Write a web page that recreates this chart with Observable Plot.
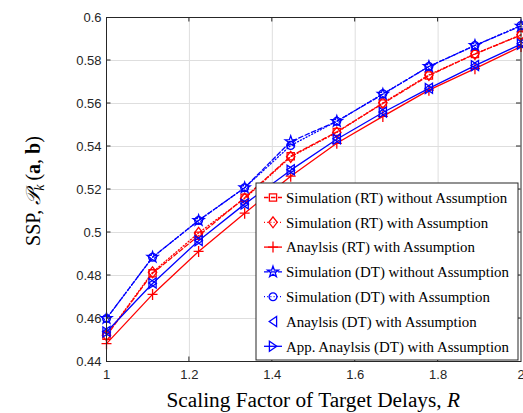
<!DOCTYPE html>
<html><head><meta charset="utf-8">
<script src="https://cdn.jsdelivr.net/npm/d3@7"></script>
<script src="https://cdn.jsdelivr.net/npm/@observablehq/plot@0.6"></script>
<style>body{margin:0;background:#fff} svg{display:block}</style>
</head><body><div id="chart"></div>
<script>
// ---- data ----
const xValues = [1, 1.1111, 1.2222, 1.3333, 1.4444, 1.5556, 1.6667, 1.7778, 1.8889, 2];
const simRTwithout = [0.4520, 0.4810, 0.4985, 0.5162, 0.5355, 0.5468, 0.5600, 0.5730, 0.5830, 0.5918];
const simRTwith    = [0.4522, 0.4815, 0.4998, 0.5158, 0.5352, 0.5465, 0.5603, 0.5733, 0.5831, 0.5920];
const anaRTwith    = [0.4483, 0.4712, 0.4912, 0.5090, 0.5262, 0.5415, 0.5540, 0.5662, 0.5762, 0.5865];
const simDTwithout = [0.4600, 0.4885, 0.5056, 0.5208, 0.5423, 0.5517, 0.5643, 0.5772, 0.5870, 0.5960];
const simDTwith    = [0.4600, 0.4885, 0.5056, 0.5208, 0.5405, 0.5517, 0.5645, 0.5772, 0.5870, 0.5963];
const anaDTwith    = [0.4540, 0.4765, 0.4963, 0.5134, 0.5292, 0.5436, 0.5560, 0.5671, 0.5777, 0.5878];
const appDTwith    = [0.4537, 0.4763, 0.4962, 0.5132, 0.5290, 0.5434, 0.5558, 0.5670, 0.5776, 0.5876];
const seriesNames = [
  "Simulation (RT) without Assumption",
  "Simulation (RT) with Assumption",
  "Anaylsis (RT) with Assumption",
  "Simulation (DT) without Assumption",
  "Simulation (DT) with Assumption",
  "Anaylsis (DT) with Assumption",
  "App. Anaylsis (DT) with Assumption"
];
const xTicks = [1, 1.2, 1.4, 1.6, 1.8, 2];
const yTicks = [0.44, 0.46, 0.48, 0.5, 0.52, 0.54, 0.56, 0.58, 0.6];

// ---- marker shapes (MATLAB-like, hollow) ----
const R0 = 4.5;
const mk = (fn) => ({draw(c, size){ const s = Math.sqrt(size/Math.PI)/R0; fn(c, s); }});
const poly = (c, pts, s) => { pts.forEach(([x,y],i)=> i? c.lineTo(x*s,y*s) : c.moveTo(x*s,y*s)); c.closePath(); };
const symSquare = mk((c,s)=>poly(c,[[-3.6,-3.6],[3.6,-3.6],[3.6,3.6],[-3.6,3.6]],s));
const symDiamond = mk((c,s)=>poly(c,[[0,-5.5],[4.2,0],[0,5.5],[-4.2,0]],s));
const symPlus = mk((c,s)=>{c.moveTo(-5*s,0);c.lineTo(5*s,0);c.moveTo(0,-5.5*s);c.lineTo(0,5.5*s);});
const symStar = mk((c,s)=>{const pts=[];for(let i=0;i<10;i++){const a=-Math.PI/2+i*Math.PI/5;const rr=i%2?2.3:5.8;pts.push([rr*Math.cos(a),rr*Math.sin(a)]);}poly(c,pts,s);});
const symCircle = mk((c,s)=>{c.moveTo(3.9*s,0);c.arc(0,0,3.9*s,0,2*Math.PI);});
const symTriLeft = mk((c,s)=>poly(c,[[-3.8,0],[3.6,-5],[3.6,5]],s));
const symTriRight = mk((c,s)=>poly(c,[[3.8,0],[-3.6,-5],[-3.6,5]],s));

const RED = "#ff0000", BLUE = "#0000ff";
const DASH = "4.5,2.5", DOT = "1,2.2";
const series = [
  {name: seriesNames[0], ys: simRTwithout, color: RED, dash: DASH, line: true, symbol: symSquare},
  {name: seriesNames[1], ys: simRTwith, color: RED, dash: DOT, line: true, symbol: symDiamond},
  {name: seriesNames[2], ys: anaRTwith, color: RED, dash: null, line: true, symbol: symPlus},
  {name: seriesNames[3], ys: simDTwithout, color: BLUE, dash: DASH, line: true, symbol: symStar},
  {name: seriesNames[4], ys: simDTwith, color: BLUE, dash: DOT, line: true, symbol: symCircle},
  {name: seriesNames[5], ys: anaDTwith, color: BLUE, dash: null, line: false, symbol: symTriLeft},
  {name: seriesNames[6], ys: appDTwith, color: BLUE, dash: null, line: true, symbol: symTriRight}
];
const rows = (ys) => xValues.map((x, i) => ({x, y: ys[i]}));

const marks = [
  Plot.gridX(xTicks.slice(1, -1), {stroke: "#dedede", strokeOpacity: 1}),
  Plot.gridY(yTicks.slice(1, -1), {stroke: "#dedede", strokeOpacity: 1}),
  Plot.axisX(xTicks, {tickSize: 0, tickPadding: 8, label: null, tickFormat: d => String(+d.toFixed(2)), fill: "#262626"}),
  Plot.axisY(yTicks, {tickSize: 0, tickPadding: 5, label: null, tickFormat: d => String(+d.toFixed(2)), fill: "#262626"})
];
for (const s of series) {
  const data = rows(s.ys);
  if (s.line) marks.push(Plot.line(data, {x: "x", y: "y", stroke: s.color, strokeWidth: 1.3, strokeDasharray: s.dash ?? undefined}));
  marks.push(Plot.dot(data, {x: "x", y: "y", symbol: s.symbol, r: R0, stroke: s.color, fill: "none", strokeWidth: 1.3}));
}
marks.push(Plot.frame({stroke: "#262626", strokeWidth: 1}));

const chart = Plot.plot({
  width: 523, height: 413,
  marginLeft: 106, marginRight: 2.5, marginTop: 17, marginBottom: 52,
  x: {domain: [1, 2]},
  y: {domain: [0.44, 0.6]},
  style: {fontFamily: "'Liberation Sans', Arial, sans-serif", fontSize: "13px", background: "#fff", overflow: "visible"},
  marks
});
document.getElementById("chart").appendChild(chart);

// ---- inward ticks, labels, legend ----
const svg = d3.select(chart);
const sx = chart.scale("x"), sy = chart.scale("y");
const [x0, x1] = sx.range, [y0, y1] = sy.range; // y0 bottom, y1 top
const tg = svg.append("g").attr("stroke", "#262626").attr("stroke-width", 1);
for (const t of xTicks.slice(1, -1)) {
  const px = sx.apply(t);
  tg.append("line").attr("x1", px).attr("x2", px).attr("y1", y0).attr("y2", y0 - 4.5);
  tg.append("line").attr("x1", px).attr("x2", px).attr("y1", y1).attr("y2", y1 + 4.5);
}
for (const t of yTicks.slice(1, -1)) {
  const py = sy.apply(t);
  tg.append("line").attr("x1", x0).attr("x2", x0 + 4.5).attr("y1", py).attr("y2", py);
  tg.append("line").attr("x1", x1).attr("x2", x1 - 4.5).attr("y1", py).attr("y2", py);
}

const serif = "'Liberation Serif', 'Times New Roman', serif";
// x label
const xl = svg.append("text").attr("x", (x0 + x1) / 2).attr("y", 407).attr("text-anchor", "middle")
  .style("font-family", serif).style("font-size", "21.3px").attr("fill", "#000");
xl.append("tspan").text("Scaling Factor of Target Delays, ");
xl.append("tspan").attr("font-style", "italic").text("R");
// y label
const yl = svg.append("text").attr("transform", `translate(40,${(y0 + y1) / 2 + 2}) rotate(-90)`).attr("text-anchor", "middle")
  .style("font-family", serif).style("font-size", "20px").attr("fill", "#000");
yl.append("tspan").text("SSP, ");
yl.append("tspan").attr("font-style", "italic").text("𝒫");
yl.append("tspan").attr("font-style", "italic").attr("font-size", "14px").attr("dy", 4).text("k");
yl.append("tspan").attr("dy", -4).text("\u2009(");
yl.append("tspan").attr("font-weight", "bold").text("a");
yl.append("tspan").text(", ");
yl.append("tspan").attr("font-weight", "bold").text("b");
yl.append("tspan").text(")");

// legend
const lg = svg.append("g").attr("text-anchor", "start");
const lx0 = 256, ly0 = 183, lw = 262, lh = 177;
lg.append("rect").attr("x", lx0).attr("y", ly0).attr("width", lw).attr("height", lh)
  .attr("fill", "#fff").attr("stroke", "#262626").attr("stroke-width", 1);
series.forEach((s, i) => {
  const cy = ly0 + 14.5 + i * 24.8;
  if (s.line) lg.append("line").attr("x1", 264).attr("x2", 282).attr("y1", cy).attr("y2", cy)
    .attr("stroke", s.color).attr("stroke-width", 1.3).attr("stroke-dasharray", s.dash);
  lg.append("path").attr("transform", `translate(273,${cy})`)
    .attr("d", d3.symbol(s.symbol, Math.PI * R0 * R0)())
    .attr("fill", "none").attr("stroke", s.color).attr("stroke-width", 1.3);
  lg.append("text").attr("x", 286).attr("y", cy).attr("dy", "0.35em").attr("text-anchor", "start")
    .style("font-family", serif).style("font-size", "14.9px").attr("fill", "#000").text(s.name);
});
</script></body></html>
